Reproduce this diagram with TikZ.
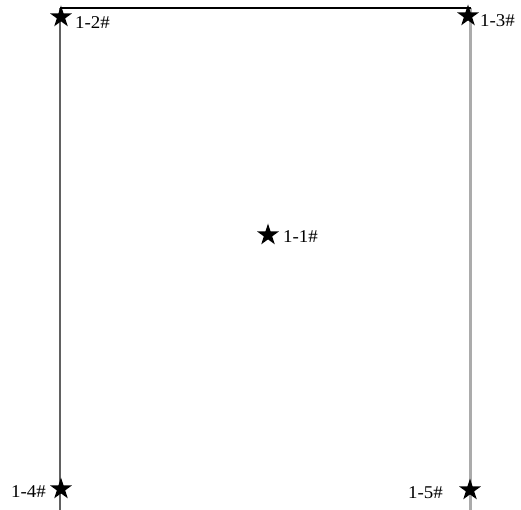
\documentclass[tikz,border=0pt]{standalone}
\usepackage{fontspec}
\setmainfont{Liberation Serif}
\newfontfamily\tagfont[FakeStretch=1.05]{Liberation Serif}
\usetikzlibrary{positioning,shapes.geometric}

\begin{document}
\begin{tikzpicture}[
  x=1pt, y=-1pt,
  pt/.style={star, star points=5, star point ratio=2.62, fill=black,
             inner sep=0pt, minimum size=23pt},
  tag/.style={font=\tagfont\fontsize{18}{18}\selectfont, inner sep=0pt, anchor=base west},
  wallL/.style={draw=black!62, line width=2.4pt},
  wallR/.style={draw=black!33, line width=3.6pt},
]
  \useasboundingbox (0,0) rectangle (521,510);

  % outline
  \coordinate (tl) at (60,8);
  \coordinate (tr) at (470.5,8);
  \coordinate (bl) at (60,510);
  \coordinate (br) at (470.5,510);
  \draw[wallL] (tl) -- (bl);
  \draw[wallR] (tr) -- (br);
  \draw[black, line width=1.4pt] (tl) -- (tr);

  % points
  \node[pt] (p1) at (268,235) {};
  \node[pt] (p2) at (61,17) {};
  \node[pt] (p3) at (468,16) {};
  \node[pt] (p4) at (61,489) {};
  \node[pt] (p5) at (470,490) {};

  % labels
  \node[tag] (l1) at (283,243) {1-1\#};
  \node[tag] (l2) at (75,29) {1-2\#};
  \node[tag] (l3) at (480,27) {1-3\#};
  \node[tag] (l4) at (11,497) {1-4\#};
  \node[tag] (l5) at (408,498) {1-5\#};
\end{tikzpicture}
\end{document}
